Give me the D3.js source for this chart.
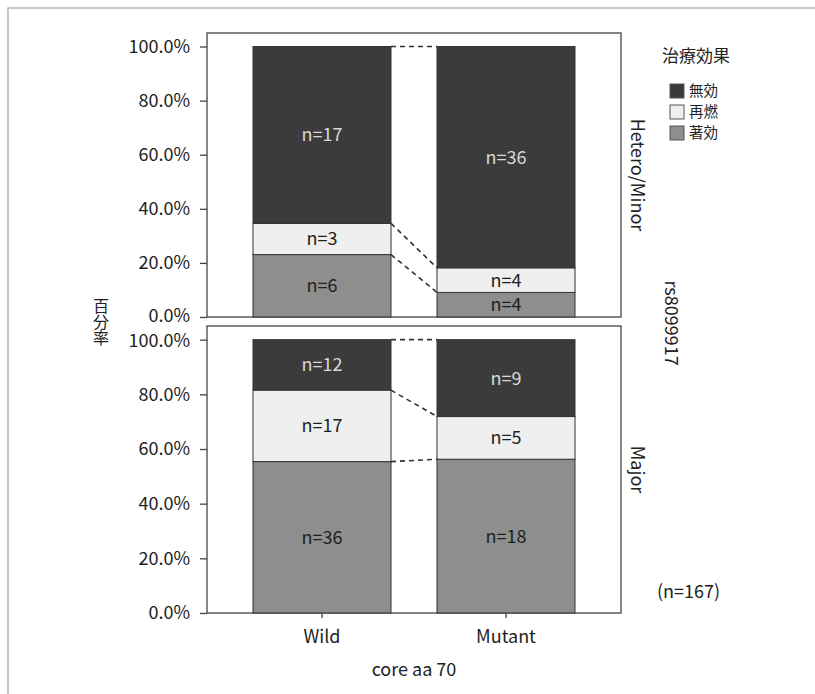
<!DOCTYPE html>
<html>
<head>
<meta charset="utf-8">
<script src="https://cdn.jsdelivr.net/npm/d3@7"></script>
<style>
  body { margin: 0; background: #fff; }
  svg text { font-family: "Noto Sans CJK JP", "Noto Sans", sans-serif; }
</style>
</head>
<body>
<div id="chart"></div>
<script>
// dane: liczby pacjentów w każdej grupie
const groups = ["Wild", "Mutant"];
const panels = ["Hetero/Minor", "Major"];
const effects = ["著効", "再燃", "無効"];          // od dołu do góry
const legendOrder = ["無効", "再燃", "著効"];
const countsHetero = { Wild: [6, 3, 17], Mutant: [4, 4, 36] };
const countsMajor = { Wild: [36, 17, 12], Mutant: [18, 5, 9] };
const yTicks = [0, 0.2, 0.4, 0.6, 0.8, 1.0];

const fillColor = { "無効": "#3b3b3b", "再燃": "#efefef", "著効": "#8e8e8e" };
const textColor = { "無効": "#d8d8d8", "再燃": "#1e1e1e", "著効": "#1e1e1e" };

const width = 815, height = 694;
const left = 207, right = 621;
const panelBoxes = [
  { name: panels[0], top: 33, bottom: 317, counts: countsHetero, nudge: { 0: -1.5 } },
  { name: panels[1], top: 326, bottom: 613, counts: countsMajor, nudge: { 1: 1.5 } }
];

const svg = d3.select("#chart")
  .append("svg")
  .attr("width", width)
  .attr("height", height);

// ramka zdjęcia (tylko góra i lewo)
svg.append("path")
  .attr("d", `M8,${height} L8,8 L${width},8`)
  .attr("fill", "none")
  .attr("stroke", "#b5b5b5")
  .attr("stroke-width", 1.5);

const x = d3.scaleBand()
  .domain(groups)
  .range([left, right])
  .paddingInner(0.25)
  .paddingOuter(0.25);

// przelicza liczby na skumulowane odsetki
const stackGroup = arr => {
  const total = d3.sum(arr);
  let acc = 0;
  return arr.map((v, i) => {
    const y0 = acc / total;
    acc += v;
    return { effect: effects[i], n: v, y0: y0, y1: acc / total };
  });
};

panelBoxes.forEach(p => {
  const y = d3.scaleLinear().domain([0, 1.05]).range([p.bottom, p.top]);
  const g = svg.append("g");

  g.append("rect")
    .attr("x", left)
    .attr("y", p.top)
    .attr("width", right - left)
    .attr("height", p.bottom - p.top)
    .attr("fill", "#fff")
    .attr("stroke", "#444")
    .attr("stroke-width", 1.3);

  const stacks = groups.map(k => ({ group: k, segs: stackGroup(p.counts[k]) }));

  stacks.forEach(s => {
    const bars = g.selectAll(null)
      .data(s.segs)
      .enter();

    bars.append("rect")
      .attr("x", x(s.group))
      .attr("width", x.bandwidth())
      .attr("y", d => y(d.y1))
      .attr("height", d => y(d.y0) - y(d.y1))
      .attr("fill", d => fillColor[d.effect])
      .attr("stroke", "#333")
      .attr("stroke-width", 1);

    bars.append("text")
      .attr("x", x(s.group) + x.bandwidth() / 2)
      .attr("y", d => (y(d.y0) + y(d.y1)) / 2)
      .attr("dy", "0.36em")
      .attr("text-anchor", "middle")
      .attr("font-size", "18px")
      .attr("fill", d => textColor[d.effect])
      .text(d => "n=" + d.n);
  });

  // linie przerywane między słupkami
  const a = stacks[0].segs, b = stacks[1].segs;
  const links = a.map((d, i) => ({ from: d.y1, to: b[i].y1 }));
  g.selectAll(null)
    .data(links)
    .enter()
    .append("line")
    .attr("x1", x("Wild") + x.bandwidth())
    .attr("x2", x("Mutant"))
    .attr("y1", d => y(d.from))
    .attr("y2", d => y(d.to))
    .attr("stroke", "#333")
    .attr("stroke-width", 1.6)
    .attr("stroke-dasharray", "5,4");

  const yAxis = d3.axisLeft(y)
    .tickValues(yTicks)
    .tickSize(7)
    .tickPadding(10)
    .tickFormat(d3.format(".1%"));

  g.append("g")
    .attr("transform", `translate(${left},0)`)
    .call(yAxis)
    .call(ax => ax.select(".domain").remove())
    .call(ax => ax.selectAll("line").attr("stroke", "#444").attr("stroke-width", 1.3))
    .call(ax => ax.selectAll("text")
      .attr("font-size", "18px")
      .attr("fill", "#222")
      .attr("y", d => p.nudge[d] || 0)
      .style("font-family", "'Noto Sans CJK JP', sans-serif"));

  g.append("text")
    .attr("transform", `translate(637,${(p.top + p.bottom) / 2}) rotate(90)`)
    .attr("text-anchor", "middle")
    .attr("dy", "0.36em")
    .attr("font-size", "18px")
    .attr("fill", "#222")
    .text(p.name);
});

const xAxis = d3.axisBottom(x).tickSize(5).tickPadding(12);
svg.append("g")
  .attr("transform", `translate(0,${panelBoxes[1].bottom})`)
  .call(xAxis)
  .call(ax => ax.select(".domain").remove())
  .call(ax => ax.selectAll("line").attr("stroke", "#444").attr("stroke-width", 1.3))
  .call(ax => ax.selectAll("text")
    .attr("font-size", "18px")
    .attr("fill", "#222")
    .style("font-family", "'Noto Sans CJK JP', sans-serif"));

svg.append("text")
  .attr("x", (left + right) / 2)
  .attr("y", 670)
  .attr("dy", "0.36em")
  .attr("text-anchor", "middle")
  .attr("font-size", "18px")
  .attr("fill", "#222")
  .text("core aa 70");

// tytuł osi Y pisany pionowo
svg.append("text")
  .attr("x", 101)
  .attr("y", (panelBoxes[0].bottom + panelBoxes[1].top) / 2)
  .attr("writing-mode", "vertical-rl")
  .style("text-orientation", "upright")
  .attr("text-anchor", "middle")
  .attr("font-size", "16px")
  .attr("fill", "#222")
  .text("百分率");

svg.append("text")
  .attr("transform", `translate(671,${(panelBoxes[0].top + panelBoxes[1].bottom) / 2}) rotate(90)`)
  .attr("text-anchor", "middle")
  .attr("dy", "0.36em")
  .attr("font-size", "18px")
  .attr("fill", "#222")
  .text("rs8099917");

svg.append("text")
  .attr("x", 657)
  .attr("y", 592)
  .attr("dy", "0.36em")
  .attr("font-size", "18px")
  .attr("fill", "#222")
  .text("(n=" + d3.sum([countsHetero, countsMajor].flatMap(c => groups.flatMap(k => c[k]))) + ")");

// legenda
const legend = svg.append("g").attr("transform", "translate(662,0)");
legend.append("text")
  .attr("x", 0)
  .attr("y", 56)
  .attr("dy", "0.36em")
  .attr("font-size", "17px")
  .attr("fill", "#222")
  .text("治療効果");

const rowY = (d, i) => 84 + i * 21;

const items = legend.selectAll(".item")
  .data(legendOrder)
  .enter()
  .append("g")
  .attr("class", "item")
  .attr("transform", (d, i) => `translate(8,${rowY(d, i)})`);

items.append("rect")
  .attr("width", 14)
  .attr("height", 14)
  .attr("fill", d => fillColor[d])
  .attr("stroke", "#555")
  .attr("stroke-width", 1);

items.append("text")
  .attr("x", 19)
  .attr("y", 7)
  .attr("dy", "0.36em")
  .attr("font-size", "14.5px")
  .attr("fill", "#222")
  .text(d => d);
</script>
</body>
</html>
